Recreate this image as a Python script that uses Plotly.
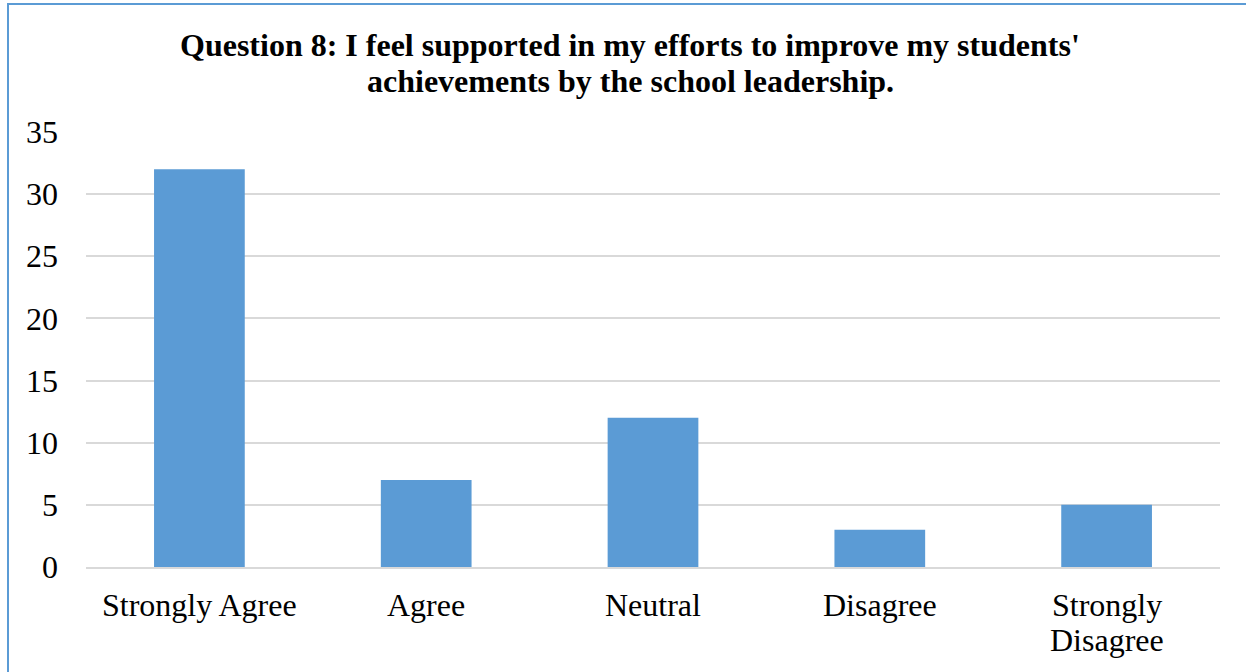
import plotly.graph_objects as go

categories = ["Strongly Agree", "Agree", "Neutral", "Disagree", "Strongly<br>Disagree"]
values = [32, 7, 12, 3, 5]
y_ticks = [0, 5, 10, 15, 20, 25, 30, 35]
title_lines = ["Question 8: I feel supported in my efforts to improve my students'",
               "achievements by the school leadership."]

W, H = 1246, 672
L, R, T, B = 86, 26, 132, 105
pw, ph = W - L - R, H - T - B
FONT = "Liberation Serif"

fig = go.Figure(go.Bar(x=categories, y=values, marker_color="#5B9BD5", marker_line_width=0))

annotations = []
# title lines
for i, line in enumerate(title_lines):
    ycen = 45 + 36 * i
    annotations.append(dict(text=f"<b>{line}</b>", xref="paper", yref="paper",
                            x=(630 - L) / pw, y=(H - B - ycen) / ph,
                            xanchor="center", yanchor="middle", showarrow=False,
                            font=dict(family=FONT, size=32, color="black")))
# category labels
for cat in categories:
    for j, line in enumerate(cat.split("<br>")):
        ycen = 605 + 35 * j
        annotations.append(dict(text=line, xref="x", yref="paper", x=cat,
                                y=(H - B - ycen) / ph, xanchor="center", yanchor="middle",
                                showarrow=False,
                                font=dict(family=FONT, size=32, color="black")))

fig.update_layout(
    width=W, height=H,
    margin=dict(l=L, r=R, t=T, b=B),
    paper_bgcolor="white", plot_bgcolor="white",
    bargap=0.6,
    showlegend=False,
    font=dict(family=FONT, size=32, color="black"),
    xaxis=dict(showgrid=False, showline=True, linecolor="#D9D9D9", linewidth=1.5,
               ticks="", showticklabels=False),
    yaxis=dict(range=[0, 35], tickvals=y_ticks, showgrid=True, gridcolor="#D9D9D9",
               gridwidth=1.5, zeroline=False, showline=False, ticks="",
               tickfont=dict(size=32), ticklabelstandoff=27),
    annotations=annotations,
    shapes=[dict(type="rect", xref="paper", yref="paper",
                 x0=(8 - L) / pw, x1=(W + 20 - L) / pw,
                 y0=(H - B - (H + 20)) / ph, y1=(H - B - 4) / ph,
                 line=dict(color="#5B9BD5", width=2), layer="below")],
)

fig.write_html("out.html", config={"displayModeBar": False},
               post_script="document.body.style.margin='0';document.body.style.overflow='hidden';")
